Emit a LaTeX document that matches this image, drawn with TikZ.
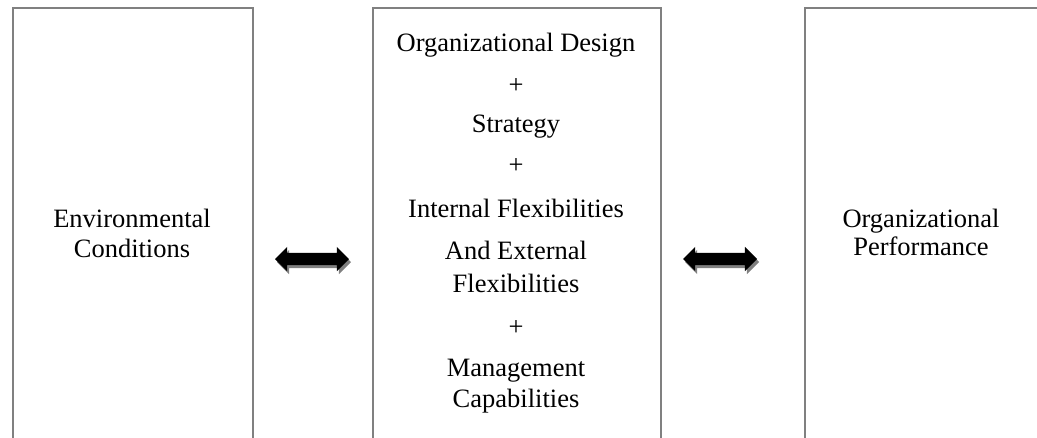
\documentclass[tikz,border=0pt]{standalone}
\usepackage{fontspec}
\setmainfont{Liberation Serif}
\usetikzlibrary{shapes.arrows,shadows}
\definecolor{boxgray}{RGB}{128,128,128}
\definecolor{arrowshadow}{RGB}{128,128,128}
\begin{document}
\begin{tikzpicture}[x=1pt,y=-1pt,
  frame/.style={draw=boxgray, line width=1.6pt, fill=none, inner sep=0pt, anchor=north west},
  txt/.style={font=\fontsize{26.5}{31}\selectfont, align=center, inner sep=0pt, anchor=base},
  dblarrow/.style={double arrow, fill=black, draw=none, inner xsep=0pt, inner ysep=6pt,
    minimum height=74pt, double arrow head extend=6pt,
    drop shadow={shadow xshift=2pt, shadow yshift=-3pt, fill=arrowshadow, opacity=1}}]
\useasboundingbox (0,0) rectangle (1037,437);
\clip (0,0) rectangle (1037,437);
% boxes (open at the bottom, cut by the page edge)
\node[frame, minimum width=240pt, minimum height=470pt] (envbox) at (12,7) {};
\node[frame, minimum width=288pt, minimum height=470pt] (midbox) at (372,7) {};
\node[frame, minimum width=236pt, minimum height=470pt] (perfbox) at (804,7) {};
% texts (anchored at the baseline of their last line)
\node[txt] (envtxt) at (132,257) {Environmental\\[-1pt]Conditions};
\node[txt] (perftxt) at (921,255) {Organizational\\[-3pt]Performance};
\node[txt] (midtxt) at (516,407) {Organizational Design\\[11pt]
+\\[8pt]
Strategy\\[10pt]
+\\[13pt]
Internal Flexibilities\\[11pt]
And External\\[2pt]
Flexibilities\\[12pt]
+\\[10pt]
Management\\
Capabilities};
% arrows
\node[dblarrow] (arrL) at (312,259) {};
\node[dblarrow] (arrR) at (720,259) {};
\end{tikzpicture}
\end{document}
